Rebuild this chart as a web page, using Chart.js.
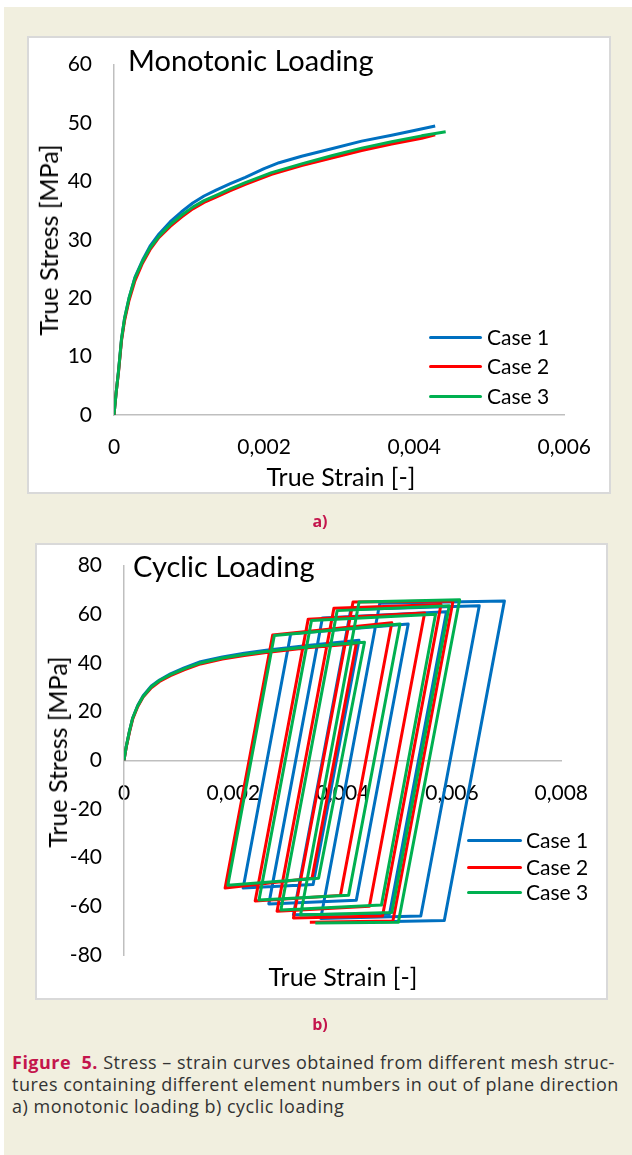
<!DOCTYPE html>
<html>
<head>
<meta charset="utf-8">
<script src="https://cdn.jsdelivr.net/npm/chart.js@4.4.1/dist/chart.umd.min.js"></script>
<style>
  html, body { margin: 0; padding: 0; background: #fff; }
  body { width: 632px; height: 1155px; position: relative; overflow: hidden; font-family: Lato, "Open Sans", sans-serif; }
  .bg { position: absolute; left: 4px; top: 7px; width: 628px; height: 1148px; background: #f1efdf; }
  .panel { position: absolute; background: #fff; border: 2px solid #d9d9d9; box-sizing: border-box; }
  canvas { position: absolute; }
  .txt { position: absolute; white-space: nowrap; color: #000; }
  .title { font-size: 29px; line-height: 32px; }
  .axt { font-size: 25px; line-height: 28px; }
  .ytitle { transform: translate(-50%, -50%) rotate(-90deg); }
  .xtitle { transform: translate(-50%, -50%); }
  .leg { position: absolute; height: 3px; border-radius: 2px; }
  .legtxt { font-size: 21px; line-height: 24px; transform: translateY(-50%); }
  .sub { font-family: "Open Sans", sans-serif; font-weight: bold; font-size: 16px; color: #c4154c; transform: translate(-50%, -50%); }
  .caption { position: absolute; left: 12px; top: 1051px; font-family: "Open Sans", sans-serif; font-size: 18px; letter-spacing: 0.5px; line-height: 22px; color: #333; white-space: nowrap; }
  .caption b { color: #c4154c; }
</style>
</head>
<body>
<div class="bg"></div>

<div class="panel" style="left:27px; top:36px; width:584px; height:458px;"></div>
<canvas id="monoChart" width="584" height="464" style="left:27px; top:30px;"></canvas>
<div class="txt title" style="left:128px; top:44px;">Monotonic Loading</div>
<div class="txt axt ytitle" style="left:48px; top:240px;">True Stress [MPa]</div>
<div class="txt axt xtitle" style="left:341px; top:476px;">True Strain [-]</div>
<div class="leg" style="left:429px; top:336px; width:53px; background:#0070c0;"></div>
<div class="leg" style="left:429px; top:365px; width:53px; background:#ff0000;"></div>
<div class="leg" style="left:429px; top:395px; width:53px; background:#00b050;"></div>
<div class="txt legtxt" style="left:487px; top:337px;">Case 1</div>
<div class="txt legtxt" style="left:487px; top:366px;">Case 2</div>
<div class="txt legtxt" style="left:487px; top:396px;">Case 3</div>
<div class="txt sub" style="left:320px; top:521px;">a)</div>

<div class="panel" style="left:35px; top:543px; width:573px; height:457px;"></div>
<canvas id="cyclicChart" width="573" height="469" style="left:35px; top:531px;"></canvas>
<div class="txt title" style="left:133px; top:550px;">Cyclic Loading</div>
<div class="txt axt ytitle" style="left:57px; top:752px;">True Stress [MPa]</div>
<div class="txt axt xtitle" style="left:343px; top:976px;">True Strain [-]</div>
<div class="leg" style="left:467px; top:839px; width:55px; background:#0070c0;"></div>
<div class="leg" style="left:467px; top:866px; width:55px; background:#ff0000;"></div>
<div class="leg" style="left:467px; top:891px; width:55px; background:#00b050;"></div>
<div class="txt legtxt" style="left:526px; top:840px;">Case 1</div>
<div class="txt legtxt" style="left:526px; top:867px;">Case 2</div>
<div class="txt legtxt" style="left:526px; top:892px;">Case 3</div>
<div class="txt sub" style="left:320px; top:1024px;">b)</div>

<div class="caption"><b>Figure&nbsp; 5.</b> Stress – strain curves obtained from different mesh struc-<br>tures containing different element numbers in out of plane direction<br>a) monotonic loading b) cyclic loading</div>

<script>
// 系列名称和颜色
const caseNames = ['Case 1', 'Case 2', 'Case 3'];
const caseColors = ['#0070c0', '#ff0000', '#00b050'];

// 单调加载 (a)
const monoStrainTicks = [0, 0.002, 0.004, 0.006];
const monoStressTicks = [0, 10, 20, 30, 40, 50, 60];

const monoCase1Strain = [0, 0.00003, 0.00006, 0.0001, 0.00014, 0.0002, 0.00028, 0.00038, 0.00048, 0.0006, 0.00075, 0.0009, 0.00105, 0.0012, 0.00136, 0.00155, 0.00175, 0.002, 0.0022, 0.0025, 0.0029, 0.0033, 0.0037, 0.004, 0.00428];
const monoCase1Stress = [0, 4, 7.5, 13, 16.5, 20, 23.6, 26.5, 28.9, 31.0, 33.1, 34.8, 36.3, 37.5, 38.5, 39.6, 40.7, 42.2, 43.2, 44.3, 45.6, 46.9, 47.9, 48.7, 49.5];

const monoCase2Strain = [0, 0.00003, 0.00006, 0.0001, 0.00014, 0.0002, 0.00028, 0.00038, 0.00048, 0.0006, 0.00075, 0.0009, 0.00105, 0.0012, 0.00136, 0.00155, 0.00175, 0.0021, 0.0025, 0.0029, 0.0033, 0.0037, 0.0041, 0.00428];
const monoCase2Stress = [0, 4, 7.3, 12.7, 16.1, 19.6, 23.0, 26.0, 28.3, 30.4, 32.3, 33.9, 35.3, 36.4, 37.3, 38.4, 39.5, 41.2, 42.7, 44.0, 45.3, 46.4, 47.4, 48.0];

const monoCase3Strain = [0, 0.00003, 0.00006, 0.0001, 0.00014, 0.0002, 0.00028, 0.00038, 0.00048, 0.0006, 0.00075, 0.0009, 0.00105, 0.0012, 0.00136, 0.00155, 0.00175, 0.0021, 0.0025, 0.0029, 0.0033, 0.0037, 0.0041, 0.00442];
const monoCase3Stress = [0, 4, 7.5, 13, 16.5, 20, 23.5, 26.3, 28.6, 30.6, 32.6, 34.2, 35.6, 36.7, 37.6, 38.7, 39.8, 41.5, 43.0, 44.4, 45.7, 46.8, 47.8, 48.5];

// 循环加载 (b)
const cyclicStrainTicks = [0, 0.002, 0.004, 0.006, 0.008];
const cyclicStressTicks = [-80, -60, -40, -20, 0, 20, 40, 60, 80];

const cyclicCase1Strain = [0, 0.00004, 0.0001, 0.00016, 0.00025, 0.00035, 0.0005, 0.00065, 0.00085, 0.0011, 0.0014, 0.0018, 0.0022, 0.0026, 0.003, 0.0034, 0.0039, 0.0043,
  0.00346, 0.00218, 0.00305, 0.0052, 0.00425, 0.00265, 0.00363, 0.0059, 0.00486, 0.0031, 0.00415, 0.0065, 0.00543, 0.0036, 0.00468, 0.00696, 0.00586, 0.0047];
const cyclicCase1Stress = [0, 5.5, 12, 17.5, 22.5, 26.5, 30.5, 33, 35.5, 38, 40.5, 42.5, 44, 45.2, 46.3, 47.3, 48.4, 49.3,
  -51, -52.5, 52, 56, -57.5, -59, 58.5, 61, -63, -63.5, 62, 63.5, -64, -65, 64.5, 65.5, -65.8, -66.3];

const cyclicCase2Strain = [0, 0.00004, 0.0001, 0.00016, 0.00025, 0.00035, 0.0005, 0.00065, 0.00085, 0.0011, 0.0014, 0.0018, 0.0022, 0.0026, 0.003, 0.0034, 0.0039, 0.00425,
  0.00344, 0.00185, 0.00272, 0.0049, 0.00396, 0.0024, 0.00337, 0.0055, 0.00449, 0.0028, 0.00384, 0.0058, 0.00473, 0.0031, 0.00419, 0.00602, 0.00492, 0.0034];
const cyclicCase2Stress = [0, 5.3, 11.6, 17, 22, 26, 29.8, 32.4, 34.8, 37.2, 39.6, 41.6, 43.1, 44.3, 45.3, 46.3, 47.3, 48,
  -48.5, -52.5, 51.5, 56.5, -55.5, -57.8, 58, 60.5, -60, -62, 62.5, 64, -64, -64.8, 65, 65.5, -66, -66.5];

const cyclicCase3Strain = [0, 0.00004, 0.0001, 0.00016, 0.00025, 0.00035, 0.0005, 0.00065, 0.00085, 0.0011, 0.0014, 0.0018, 0.0022, 0.0026, 0.003, 0.0034, 0.0039, 0.0044,
  0.00356, 0.0019, 0.00275, 0.00505, 0.00411, 0.00247, 0.00343, 0.0057, 0.00471, 0.00287, 0.0039, 0.00595, 0.0049, 0.00323, 0.0043, 0.00614, 0.00502, 0.0035];
const cyclicCase3Stress = [0, 5.5, 12, 17.4, 22.3, 26.2, 30.2, 32.8, 35.2, 37.6, 40, 42, 43.5, 44.7, 45.7, 46.7, 47.7, 48.5,
  -48.5, -51.3, 51.3, 56, -55.4, -57.4, 57.4, 60, -59.5, -61.5, 61.5, 63.5, -62.5, -63.6, 65, 66, -66.5, -66.9];

Chart.defaults.font.family = 'Lato, "Open Sans", sans-serif';
Chart.defaults.color = '#000';

/**
 * 将应变/应力数组合并为点
 */
function toPoints(xs, ys) {
  return xs.map((x, i) => ({ x: x, y: ys[i] }));
}

/**
 * 创建数据集
 */
function makeDataset(i, xs, ys) {
  return {
    label: caseNames[i],
    data: toPoints(xs, ys),
    borderColor: caseColors[i],
    backgroundColor: caseColors[i],
    borderWidth: 3,
    borderJoinStyle: 'round',
    showLine: true,
    pointRadius: 0,
    tension: 0,
    fill: false,
    order: 3 - i
  };
}

function strainLabel(value) {
  if (Math.abs(value) < 1e-9) return '0';
  return value.toFixed(3).replace('.', ',');
}

function fixedTicks(list) {
  return (scale) => { scale.ticks = list.map(v => ({ value: v })); };
}

const axisBorder = { display: true, color: '#bfbfbf', width: 1.5 };
const tickFont = { size: 21 };

new Chart(document.getElementById('monoChart'), {
  type: 'scatter',
  data: {
    datasets: [
      makeDataset(0, monoCase1Strain, monoCase1Stress),
      makeDataset(1, monoCase2Strain, monoCase2Stress),
      makeDataset(2, monoCase3Strain, monoCase3Stress)
    ]
  },
  options: {
    responsive: false,
    animation: false,
    devicePixelRatio: 1,
    layout: { padding: { top: 10, right: 43, bottom: 0, left: 0 } },
    plugins: { legend: { display: false }, tooltip: { enabled: false } },
    scales: {
      x: {
        type: 'linear',
        min: 0,
        max: 0.006,
        grid: { display: false, drawTicks: false },
        border: axisBorder,
        afterBuildTicks: fixedTicks(monoStrainTicks),
        afterFit: (scale) => { scale.height = 79; },
        ticks: { font: tickFont, padding: 20, maxRotation: 0, callback: strainLabel }
      },
      y: {
        type: 'linear',
        min: 0,
        max: 60,
        grid: { display: false, drawTicks: false },
        border: axisBorder,
        afterBuildTicks: fixedTicks(monoStressTicks),
        afterFit: (scale) => { scale.width = 87; },
        ticks: { font: tickFont, padding: 22 }
      }
    }
  }
});

new Chart(document.getElementById('cyclicChart'), {
  type: 'scatter',
  data: {
    datasets: [
      makeDataset(0, cyclicCase1Strain, cyclicCase1Stress),
      makeDataset(1, cyclicCase2Strain, cyclicCase2Stress),
      makeDataset(2, cyclicCase3Strain, cyclicCase3Stress)
    ]
  },
  options: {
    responsive: false,
    animation: false,
    devicePixelRatio: 1,
    layout: { padding: { top: 10, right: 44, bottom: 45, left: 0 } },
    plugins: { legend: { display: false }, tooltip: { enabled: false } },
    scales: {
      x: {
        type: 'linear',
        position: { y: 0 },
        min: 0,
        max: 0.008,
        grid: { display: false, drawTicks: false },
        border: axisBorder,
        afterBuildTicks: fixedTicks(cyclicStrainTicks),
        ticks: { font: tickFont, padding: 20, maxRotation: 0, callback: strainLabel }
      },
      y: {
        type: 'linear',
        min: -80,
        max: 80,
        grid: { display: false, drawTicks: false },
        border: axisBorder,
        afterBuildTicks: fixedTicks(cyclicStressTicks),
        afterFit: (scale) => { scale.width = 89; },
        ticks: { font: tickFont, padding: 22 }
      }
    }
  }
});
</script>
</body>
</html>
